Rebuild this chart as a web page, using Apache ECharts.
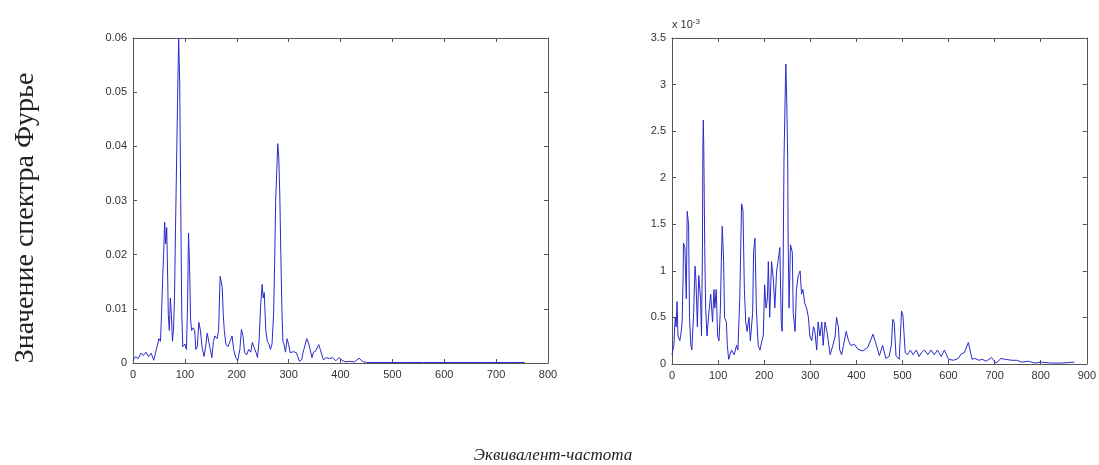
<!DOCTYPE html>
<html>
<head>
<meta charset="utf-8">
<script src="https://cdn.jsdelivr.net/npm/echarts@6/dist/echarts.min.js"></script>
<style>
html, body { margin: 0; padding: 0; background: #fff; }
#chart { width: 1099px; height: 465px; }
</style>
</head>
<body>
<div id="chart"></div>
<script>
// спектр слева
const leftFreq = [0, 5, 10, 15, 20, 25, 30, 35, 40, 45, 50, 53, 55, 57, 59, 61, 63, 65, 67, 68, 70, 72, 74, 76, 78, 80, 82, 84, 86, 88, 90, 92, 94, 96, 100, 103, 105, 107, 109, 111, 113, 116, 119, 121, 124, 127, 130, 133, 137, 140, 143, 146, 149, 152, 155, 158, 162, 165, 168, 170, 172, 174, 176, 179, 183, 187, 191, 194, 198, 202, 206, 209, 212, 215, 219, 223, 227, 230, 233, 237, 240, 243, 246, 249, 251, 253, 256, 259, 262, 265, 268, 271, 273, 275, 277, 279, 281, 283, 285, 287, 289, 291, 294, 297, 300, 303, 309, 315, 321, 325, 328, 335, 339, 345, 348, 352, 358, 361, 367, 373, 379, 385, 391, 397, 403, 409, 418, 427, 436, 442, 450, 480, 520, 560, 600, 640, 680, 720, 755]
const leftAmp = [0.0005, 0.0012, 0.0008, 0.0018, 0.0014, 0.002, 0.0012, 0.0018, 0.0005, 0.0025, 0.0045, 0.004, 0.009, 0.015, 0.02, 0.026, 0.022, 0.025, 0.015, 0.009, 0.006, 0.012, 0.009, 0.004, 0.006, 0.012, 0.025, 0.025, 0.049, 0.06, 0.052, 0.03, 0.009, 0.003, 0.0035, 0.0025, 0.01, 0.024, 0.018, 0.008, 0.006, 0.0065, 0.006, 0.0025, 0.003, 0.0075, 0.006, 0.003, 0.0012, 0.003, 0.0055, 0.004, 0.0025, 0.001, 0.004, 0.005, 0.0045, 0.006, 0.016, 0.015, 0.014, 0.009, 0.006, 0.0035, 0.003, 0.004, 0.005, 0.0025, 0.001, 0.0005, 0.0025, 0.0062, 0.005, 0.002, 0.0015, 0.0025, 0.002, 0.0038, 0.003, 0.002, 0.001, 0.004, 0.0105, 0.0145, 0.012, 0.013, 0.006, 0.004, 0.0035, 0.0025, 0.0035, 0.009, 0.018, 0.03, 0.035, 0.0405, 0.038, 0.031, 0.02, 0.01, 0.004, 0.0035, 0.002, 0.0045, 0.0034, 0.0019, 0.0021, 0.0019, 0.0003, 0.0006, 0.002, 0.0045, 0.0035, 0.001, 0.002, 0.0022, 0.0034, 0.0025, 0.0006, 0.001, 0.0008, 0.001, 0.0004, 0.001, 0.0005, 0.0002, 0.0003, 0.0002, 0.0009, 0.0003, 0.0001, 0.0001, 0.0001, 0.0001, 0.0001, 0.0001, 0.0001, 0.0001, 0.0001]

// спектр справа (в единицах 10^-3)
const rightFreq = [0, 4, 7, 9, 11, 13, 17, 20, 22, 24, 25, 28, 31, 33, 36, 38, 41, 43, 47, 50, 52, 55, 58, 62, 64, 66, 67, 68, 69, 71, 73, 76, 80, 84, 88, 91, 93, 96, 99, 102, 105, 107, 109, 112, 114, 118, 120, 123, 129, 135, 140, 143, 147, 151, 154, 157, 160, 163, 167, 170, 175, 177, 180, 183, 187, 191, 195, 198, 201, 204, 207, 209, 212, 216, 220, 223, 227, 230, 234, 237, 239, 241, 243, 246, 247, 249, 251, 252, 254, 257, 261, 263, 267, 270, 274, 278, 281, 284, 288, 292, 296, 299, 303, 307, 310, 314, 317, 321, 325, 328, 332, 336, 339, 343, 349, 354, 357, 361, 364, 368, 372, 378, 383, 388, 396, 403, 414, 425, 436, 443, 450, 457, 464, 471, 476, 479, 482, 486, 493, 498, 501, 506, 511, 517, 523, 530, 536, 541, 548, 555, 562, 569, 576, 584, 591, 594, 600, 611, 621, 628, 634, 643, 651, 657, 666, 673, 682, 693, 703, 714, 723, 737, 748, 759, 773, 787, 801, 823, 844, 873]
const rightAmp = [0.1, 0.2, 0.5, 0.4, 0.67, 0.3, 0.25, 0.35, 0.45, 0.9, 1.3, 1.25, 0.7, 1.64, 1.5, 0.5, 0.2, 0.15, 0.55, 1.05, 0.9, 0.4, 0.95, 0.7, 0.3, 1.2, 2.35, 2.62, 2.3, 1.25, 0.6, 0.3, 0.55, 0.75, 0.45, 0.8, 0.6, 0.8, 0.3, 0.25, 0.6, 1.1, 1.48, 1.1, 0.5, 0.45, 0.2, 0.05, 0.15, 0.1, 0.2, 0.15, 0.7, 1.72, 1.65, 0.8, 0.45, 0.35, 0.5, 0.25, 0.55, 1.2, 1.35, 0.6, 0.2, 0.15, 0.25, 0.3, 0.85, 0.6, 0.7, 1.1, 0.5, 1.1, 0.9, 0.6, 1.0, 1.1, 1.25, 0.45, 0.35, 1.0, 2.2, 3.0, 3.22, 2.8, 2.2, 1.3, 0.6, 1.28, 1.2, 0.55, 0.35, 0.8, 0.95, 1.0, 0.75, 0.8, 0.65, 0.6, 0.5, 0.3, 0.25, 0.4, 0.35, 0.15, 0.45, 0.3, 0.45, 0.2, 0.45, 0.35, 0.25, 0.1, 0.2, 0.3, 0.5, 0.4, 0.15, 0.1, 0.2, 0.35, 0.25, 0.2, 0.21, 0.16, 0.14, 0.18, 0.32, 0.21, 0.09, 0.2, 0.06, 0.08, 0.2, 0.48, 0.45, 0.09, 0.05, 0.57, 0.52, 0.12, 0.1, 0.15, 0.1, 0.15, 0.08, 0.12, 0.15, 0.1, 0.15, 0.1, 0.15, 0.08, 0.15, 0.15, 0.05, 0.04, 0.06, 0.11, 0.12, 0.23, 0.05, 0.06, 0.04, 0.05, 0.03, 0.07, 0.01, 0.06, 0.05, 0.04, 0.04, 0.02, 0.03, 0.01, 0.02, 0.01, 0.01, 0.02, 0.01]

const yTitle = 'Значение спектра Фурье'
const xTitle = 'Эквивалент-частота'

const lineColor = '#2a2acc'
const axisColor = '#555'
const labelStyle = { color: '#333', fontSize: 11, fontFamily: 'Liberation Sans, Arial, sans-serif' }

function zip (xs, ys) {
    return xs.map((x, i) => [x, ys[i]])
}

// основная ось + дублирующая (рамка с засечками внутрь)
function xAxes (gridIndex, max) {
    let base = {
        type: 'value', gridIndex: gridIndex, min: 0, max: max, interval: 100,
        axisLine: { show: true, onZero: false, lineStyle: { color: axisColor } },
        axisTick: { show: true, inside: true, length: 4, lineStyle: { color: axisColor } },
        splitLine: { show: false }
    }
    return [
        Object.assign({}, base, { position: 'bottom', axisLabel: Object.assign({ margin: 6 }, labelStyle) }),
        Object.assign({}, base, { position: 'top', axisLabel: { show: false } })
    ]
}
function yAxes (gridIndex, max, interval) {
    let base = {
        type: 'value', gridIndex: gridIndex, min: 0, max: max, interval: interval,
        axisLine: { show: true, onZero: false, lineStyle: { color: axisColor } },
        axisTick: { show: true, inside: true, length: 4, lineStyle: { color: axisColor } },
        splitLine: { show: false }
    }
    return [
        Object.assign({}, base, { position: 'left', axisLabel: Object.assign({ margin: 6 }, labelStyle) }),
        Object.assign({}, base, { position: 'right', axisLabel: { show: false } })
    ]
}

let chart = echarts.init(document.getElementById('chart'))
let option = {
    backgroundColor: '#fff',
    animation: false,
    grid: [
        { left: 133, right: 551, top: 38, bottom: 102 },
        { left: 672, right: 9, top: 38, bottom: 101 }
    ],
    xAxis: xAxes(0, 800).concat(xAxes(1, 900)),
    yAxis: yAxes(0, 0.06, 0.01).concat(yAxes(1, 3.5, 0.5)),
    graphic: [
        {
            type: 'text', left: 672, top: 18,
            style: {
                text: '{a|x 10}{b|-3}',
                rich: {
                    a: { fontSize: 11, fill: '#333', fontFamily: 'Liberation Sans, Arial, sans-serif' },
                    b: { fontSize: 8, fill: '#333', verticalAlign: 'top', padding: [0, 0, 6, 0], fontFamily: 'Liberation Sans, Arial, sans-serif' }
                }
            }
        },
        {
            type: 'text', x: 26, y: 218, rotation: Math.PI / 2,
            style: {
                text: yTitle, fill: '#222', fontSize: 28,
                fontFamily: 'Liberation Serif, Times New Roman, serif',
                align: 'center', verticalAlign: 'middle'
            }
        },
        {
            type: 'text', x: 553, y: 456,
            style: {
                text: xTitle, fill: '#222', fontSize: 17, fontStyle: 'italic',
                fontFamily: 'Liberation Serif, Times New Roman, serif',
                align: 'center', verticalAlign: 'middle'
            }
        }
    ],
    series: [
        {
            type: 'line', xAxisIndex: 0, yAxisIndex: 0,
            data: zip(leftFreq, leftAmp),
            showSymbol: false,
            lineStyle: { color: lineColor, width: 1 }
        },
        {
            type: 'line', xAxisIndex: 2, yAxisIndex: 2,
            data: zip(rightFreq, rightAmp),
            showSymbol: false,
            lineStyle: { color: lineColor, width: 1 }
        }
    ]
}
chart.setOption(option)
</script>
</body>
</html>
